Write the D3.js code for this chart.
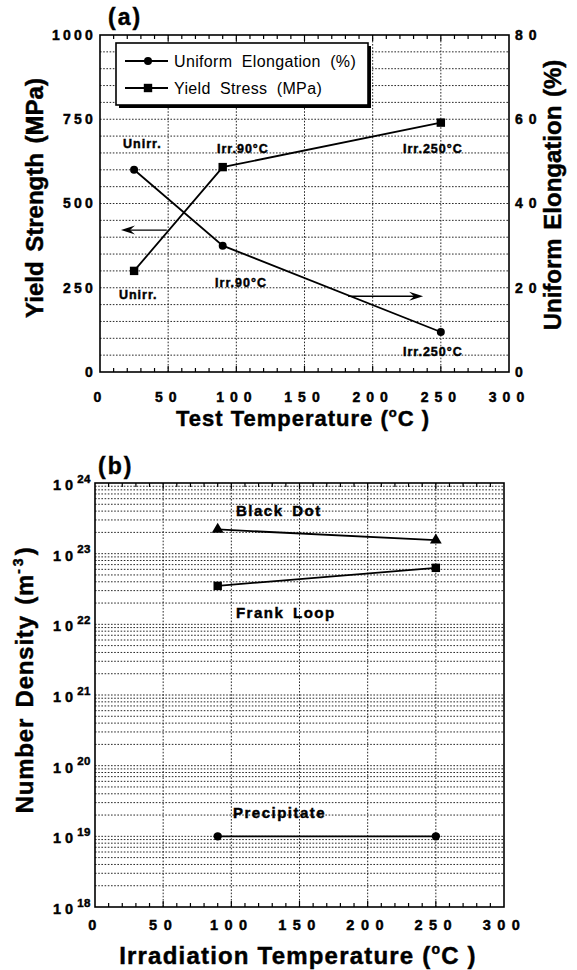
<!DOCTYPE html>
<html><head><meta charset="utf-8">
<script src="https://cdn.jsdelivr.net/npm/d3@7"></script>
<style>
body{margin:0;background:#fff}
svg{display:block}
text{font-family:"Liberation Sans",Arial,Helvetica,sans-serif;fill:#000}
</style>
</head><body>
<svg id="c" width="577" height="970"></svg>
<script>
// ---------- data: panel (a) ----------
const tempA = [25, 90, 250];
const elongation = [48, 30, 9.5];          // %
const yieldStress = [300, 608, 740];       // MPa
const xTicksA = [0, 50, 100, 150, 200, 250, 300];
const yLeftTicks = [0, 250, 500, 750, 1000];
const yRightTicks = [0, 20, 40, 60, 80];
const legendLabels = ["Uniform Elongation (%)", "Yield Stress (MPa)"];
const annotA = [
  {t:"Unirr.", x:16.9, y:665},
  {t:"Irr.90°C", x:85.8, y:650},
  {t:"Irr.250°C", x:222.2, y:650},
  {t:"Unirr.", x:13.9, y:216},
  {t:"Irr.90°C", x:84.4, y:252},
  {t:"Irr.250°C", x:222.2, y:47}
];
const arrowsA = [
  {x1:49, x2:15.4, y:421},
  {x1:182, x2:237, y:225}
];
// ---------- data: panel (b) ----------
const tempB = [90, 250];
const blackDot = [2.2e23, 1.55e23];
const frankLoop = [3.5e22, 6.3e22];
const precipitate = [1e19, 1e19];
const xTicksB = [0, 50, 100, 150, 200, 250, 300];
const yExpB = [18, 19, 20, 21, 22, 23, 24];
const annotB = [
  {t:"Black Dot", x:103.4, y:3.4e23},
  {t:"Frank Loop", x:103.4, y:1.23e22},
  {t:"Precipitate", x:101.2, y:1.8e19}
];

const svg = d3.select("#c");
const FONT = '"Liberation Sans",Arial,Helvetica,sans-serif';
const heavy = sel => sel.attr("stroke", "#000").attr("stroke-width", 0.45).attr("paint-order", "stroke");

function grid(g, xs, ys, x, y) {
  const [x0, x1] = x.range(), [y0, y1] = y.range();
  g.selectAll(null).data(ys).enter().append("line")
    .attr("x1", x0).attr("x2", x1).attr("y1", d => y(d)).attr("y2", d => y(d))
    .attr("stroke", "#111").attr("stroke-width", 0.9).attr("stroke-dasharray", "1.6,1.6");
  g.selectAll(null).data(xs).enter().append("line")
    .attr("y1", y0).attr("y2", y1).attr("x1", d => x(d)).attr("x2", d => x(d))
    .attr("stroke", "#111").attr("stroke-width", 0.9).attr("stroke-dasharray", "1.6,1.6");
}
function frameAndTicks(g, x, y) {
  const [x0, x1] = x.range(), [y0, y1] = y.range();
  const minor = d3.range(10, 300, 10);
  g.selectAll(null).data(minor).enter().append("line")
    .attr("x1", d => x(d)).attr("x2", d => x(d)).attr("y1", y0).attr("y2", d => y0 - (d % 50 === 0 ? 6 : 4))
    .attr("stroke", "#000").attr("stroke-width", 1.2);
  g.selectAll(null).data(minor).enter().append("line")
    .attr("x1", d => x(d)).attr("x2", d => x(d)).attr("y1", y1).attr("y2", d => y1 + (d % 50 === 0 ? 6 : 4))
    .attr("stroke", "#000").attr("stroke-width", 1.2);
  g.append("rect").attr("x", x0).attr("y", y1).attr("width", x1 - x0).attr("height", y0 - y1)
    .attr("fill", "none").attr("stroke", "#000").attr("stroke-width", 1.6);
}
function styleAxis(ax, size, ls) {
  ax.select(".domain").remove();
  ax.selectAll("text").attr("font-family", FONT).attr("font-weight", "bold")
    .attr("font-size", size).attr("letter-spacing", ls).attr("fill", "#000").call(heavy);
}
function arrow(g, xa, xb, yy) {
  const dir = Math.sign(xb - xa);
  g.append("line").attr("x1", xa).attr("x2", xb - dir * 6).attr("y1", yy).attr("y2", yy)
    .attr("stroke", "#000").attr("stroke-width", 1.4);
  g.append("path")
    .attr("d", `M${xb},${yy} L${xb - dir * 14},${yy - 4.5} L${xb - dir * 9},${yy} L${xb - dir * 14},${yy + 4.5} Z`)
    .attr("fill", "#000");
}

// =============== Panel (a) ===============
const xA = d3.scaleLinear().domain([0, 300]).range([100, 509]);
const yA = d3.scaleLinear().domain([0, 1000]).range([372, 35]);
const yA2 = d3.scaleLinear().domain([0, 80]).range([372, 35]);
const gA = svg.append("g");

grid(gA, [50, 100, 150, 200, 250], d3.range(50, 1000, 50), xA, yA);
frameAndTicks(gA, xA, yA);

const axL = gA.append("g").attr("transform", "translate(100,0)")
  .call(d3.axisLeft(yA).tickValues(yLeftTicks).tickSize(0).tickPadding(4).tickFormat(d3.format("d")));
styleAxis(axL, 14, 3.2);
const axR = gA.append("g").attr("transform", "translate(509,0)")
  .call(d3.axisRight(yA2).tickValues(yRightTicks).tickSize(0).tickPadding(6).tickFormat(d3.format("d")));
styleAxis(axR, 14, 6);
const axB = gA.append("g").attr("transform", "translate(0,372)")
  .call(d3.axisBottom(xA).tickValues(xTicksA).tickSize(0).tickPadding(20).tickFormat(d3.format("d")));
styleAxis(axB, 14, 6);

// series
const lineA = d3.line().x(d => xA(d[0])).y(d => d[1]);
gA.append("path").datum(tempA.map((t, i) => [t, yA2(elongation[i])]))
  .attr("d", lineA).attr("fill", "none").attr("stroke", "#000").attr("stroke-width", 1.8);
gA.append("path").datum(tempA.map((t, i) => [t, yA(yieldStress[i])]))
  .attr("d", lineA).attr("fill", "none").attr("stroke", "#000").attr("stroke-width", 1.8);
gA.selectAll(null).data(tempA).enter().append("circle")
  .attr("cx", d => xA(d)).attr("cy", (d, i) => yA2(elongation[i])).attr("r", 4).attr("fill", "#000");
gA.selectAll(null).data(tempA).enter().append("rect")
  .attr("x", d => xA(d) - 4.2).attr("y", (d, i) => yA(yieldStress[i]) - 4.2)
  .attr("width", 8.4).attr("height", 8.4).attr("fill", "#000");

// annotations
gA.selectAll(null).data(annotA).enter().append("text")
  .attr("x", d => xA(d.x)).attr("y", d => yA(d.y)).text(d => d.t)
  .attr("font-size", 12.5).attr("font-weight", "bold").attr("letter-spacing", 1).call(heavy);
arrowsA.forEach(a => arrow(gA, xA(a.x1), xA(a.x2), yA(a.y)));

// legend
const lg = gA.append("g");
lg.append("rect").attr("x", 119).attr("y", 46).attr("width", 252).attr("height", 62).attr("fill", "#000");
lg.append("rect").attr("x", 116).attr("y", 43).attr("width", 252).attr("height", 62)
  .attr("fill", "#fff").attr("stroke", "#000").attr("stroke-width", 1.6);
legendLabels.forEach((lab, i) => {
  const cy = 61 + i * 27;
  lg.append("line").attr("x1", 125).attr("x2", 168).attr("y1", cy).attr("y2", cy)
    .attr("stroke", "#000").attr("stroke-width", 1.8);
  if (i === 0) lg.append("circle").attr("cx", 148).attr("cy", cy).attr("r", 4).attr("fill", "#000");
  else lg.append("rect").attr("x", 143.8).attr("y", cy - 4.2).attr("width", 8.4).attr("height", 8.4).attr("fill", "#000");
  lg.append("text").attr("x", 174).attr("y", cy + 5.8).text(lab)
    .attr("font-size", 16).attr("word-spacing", 4.5).attr("letter-spacing", 0.35);
});

// titles
svg.append("text").attr("x", 108).attr("y", 25).text("(a)")
  .attr("font-size", 23).attr("font-weight", "bold").attr("letter-spacing", 2).call(heavy);
svg.append("text").attr("transform", "translate(43,198) rotate(-90)").attr("text-anchor", "middle")
  .text("Yield Strength (MPa)").attr("font-size", 24).attr("font-weight", "bold").attr("word-spacing", 3).call(heavy);
svg.append("text").attr("transform", "translate(561,195) rotate(-90)").attr("text-anchor", "middle")
  .text("Uniform Elongation (%)").attr("font-size", 24).attr("font-weight", "bold").attr("word-spacing", 2).call(heavy);
const tA = svg.append("text").attr("x", 303).attr("y", 426).attr("text-anchor", "middle")
  .attr("font-size", 22).attr("font-weight", "bold").attr("letter-spacing", 1).call(heavy);
tA.append("tspan").text("Test Temperature (");
tA.append("tspan").text("o").attr("font-size", 13).attr("dy", -9);
tA.append("tspan").text("C )").attr("dy", 9);

// =============== Panel (b) ===============
const xB = d3.scaleLinear().domain([0, 300]).range([95, 504]);
const yB = d3.scaleLog().domain([1e18, 1e24]).range([907, 483]);
const gB = svg.append("g");
const minorLog = [];
for (let e = 18; e < 24; e++) for (let m = 1; m <= 9; m++) if (!(e === 18 && m === 1)) minorLog.push(m * Math.pow(10, e));
grid(gB, [50, 100, 150, 200, 250], minorLog, xB, yB);
frameAndTicks(gB, xB, yB);

const axBB = gB.append("g").attr("transform", "translate(0,907)")
  .call(d3.axisBottom(xB).tickValues(xTicksB).tickSize(0).tickPadding(13).tickFormat(d3.format("d")));
styleAxis(axBB, 14.5, 6.5);

// y labels 10^n
yExpB.forEach(e => {
  const t = gB.append("text").attr("x", 53).attr("y", yB(Math.pow(10, e)) + 7)
    .attr("font-size", 14.5).attr("font-weight", "bold").call(heavy);
  t.append("tspan").text("10").attr("letter-spacing", 4);
  t.append("tspan").text(e).attr("font-size", 11.5).attr("dy", -7.5).attr("letter-spacing", 0.5);
});

const lineB = d3.line().x(d => xB(d[0])).y(d => yB(d[1]));
[blackDot, frankLoop, precipitate].forEach(s => {
  gB.append("path").datum(tempB.map((t, i) => [t, s[i]])).attr("d", lineB)
    .attr("fill", "none").attr("stroke", "#000").attr("stroke-width", 1.8);
});
const tri = d3.symbol().type(d3.symbolTriangle).size(60);
gB.selectAll(null).data(tempB).enter().append("path").attr("d", tri)
  .attr("transform", (d, i) => `translate(${xB(d)},${yB(blackDot[i])})`).attr("fill", "#000");
gB.selectAll(null).data(tempB).enter().append("rect")
  .attr("x", d => xB(d) - 4.2).attr("y", (d, i) => yB(frankLoop[i]) - 4.2)
  .attr("width", 8.4).attr("height", 8.4).attr("fill", "#000");
gB.selectAll(null).data(tempB).enter().append("circle")
  .attr("cx", d => xB(d)).attr("cy", (d, i) => yB(precipitate[i])).attr("r", 4.2).attr("fill", "#000");

gB.selectAll(null).data(annotB).enter().append("text")
  .attr("x", d => xB(d.x)).attr("y", d => yB(d.y)).text(d => d.t)
  .attr("font-size", 15).attr("font-weight", "bold").attr("letter-spacing", 1.5).attr("word-spacing", 3).call(heavy);

svg.append("text").attr("x", 98).attr("y", 474).text("(b)")
  .attr("font-size", 23).attr("font-weight", "bold").attr("letter-spacing", 2).call(heavy);
const tYB = svg.append("text").attr("transform", "translate(33,680) rotate(-90)").attr("text-anchor", "middle")
  .attr("font-size", 24).attr("font-weight", "bold").attr("letter-spacing", 0.8).attr("word-spacing", 3).call(heavy);
tYB.append("tspan").text("Number Density (m");
tYB.append("tspan").text("-3").attr("font-size", 14).attr("dy", -10).attr("letter-spacing", 3);
tYB.append("tspan").text(")").attr("dy", 10);
const tXB = svg.append("text").attr("x", 298).attr("y", 964).attr("text-anchor", "middle")
  .attr("font-size", 24).attr("font-weight", "bold").attr("letter-spacing", 1.2).call(heavy);
tXB.append("tspan").text("Irradiation Temperature (");
tXB.append("tspan").text("o").attr("font-size", 14).attr("dy", -10);
tXB.append("tspan").text("C )").attr("dy", 10);
</script>
</body></html>
